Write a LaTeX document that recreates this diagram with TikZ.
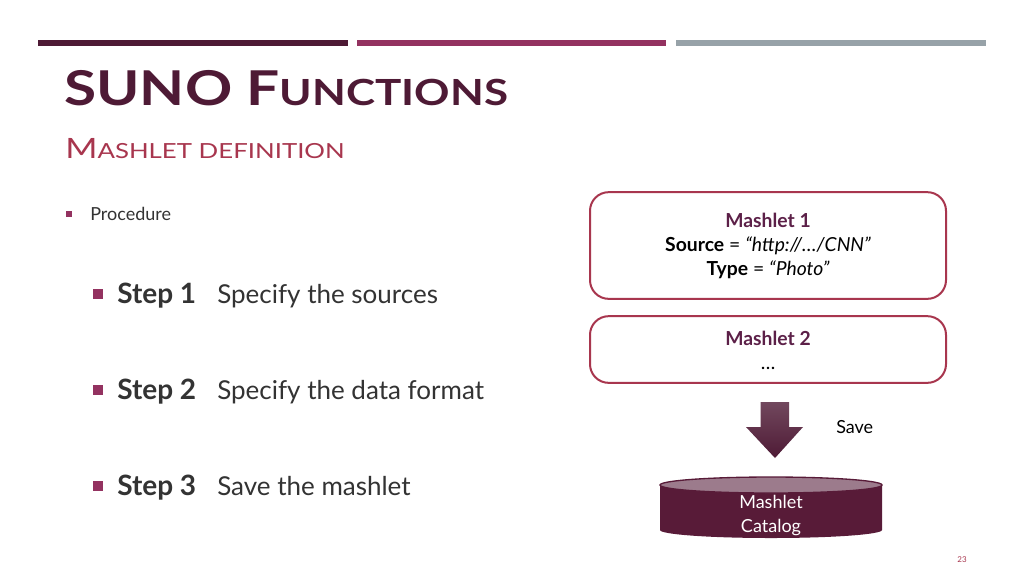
\documentclass[tikz,border=0pt]{standalone}
\usepackage{fontspec}
\setmainfont{Lato}
\usetikzlibrary{shapes.geometric}
\definecolor{plumdark}{HTML}{4E1A35}
\definecolor{plummid}{HTML}{933260}
\definecolor{bargray}{HTML}{97A2A8}
\definecolor{crimson}{HTML}{A8364E}
\definecolor{boxtitle}{HTML}{5C2048}
\definecolor{textgray}{HTML}{333333}
\definecolor{cylbody}{HTML}{581B38}
\definecolor{cyltop}{HTML}{9C7B8C}
\tikzset{
  bar/.style={fill=#1, draw=none},
  stepbullet/.style={fill=plummid, draw=none, minimum size=7pt, inner sep=0pt},
  smallbullet/.style={fill=plummid, draw=none, minimum size=5pt, inner sep=0pt},
  steptext/.style={anchor=base west, inner sep=0pt, text=textgray, font=\fontsize{19.5}{24}\selectfont},
  mashbox/.style={draw=crimson, line width=1.5pt, rounded corners=14pt, minimum width=267pt, fill=white},
  boxtext/.style={inner sep=0pt, align=center, font=\fontsize{14.5}{18}\selectfont},
}
\newcommand{\steplabel}[1]{\makebox[75pt][l]{\fontsize{21}{24}\selectfont\textbf{#1}}}
\begin{document}
\begin{tikzpicture}[x=0.75pt,y=-0.75pt]
\fill[white] (0,0) rectangle (1024,576);
\useasboundingbox (0,0) rectangle (1024,576);
% bars
\fill[bar=plumdark] (38,39.5) rectangle (348,46);
\fill[bar=plummid] (357,39.5) rectangle (666,46);
\fill[bar=bargray] (676,39.5) rectangle (986,46);
% title
\node[anchor=base west, inner sep=0pt, text=plumdark, font=\bfseries, xscale=1.22, transform shape] (title) at (64,105)
 {\fontsize{36}{40}\selectfont SUNO F\fontsize{27}{30}\selectfont UNCTIONS};
\node[anchor=base west, inner sep=0pt, text=crimson, xscale=1.24, transform shape] (subtitle) at (65,158)
 {\fontsize{21}{24}\selectfont M\fontsize{15.6}{18}\selectfont ASHLET DEFINITION};
% procedure
\node[smallbullet] (b0) at (69,214) {};
\node[anchor=base west, inner sep=0pt, text=textgray, font=\fontsize{13.5}{16}\selectfont] (proc) at (90,220.5) {Procedure};
% steps
\node[stepbullet] (b1) at (98,294) {};
\node[steptext] (s1) at (117,303) {\steplabel{Step 1}Specify the sources};
\node[stepbullet] (b2) at (98,390) {};
\node[steptext] (s2) at (117,399) {\steplabel{Step 2}Specify the data format};
\node[stepbullet] (b3) at (98,486) {};
\node[steptext] (s3) at (117,495) {\steplabel{Step 3}Save the mashlet};
% boxes
\node[mashbox, minimum height=80pt] (m1) at (768,245.5) {};
\node[boxtext] (m1t) at (768,246) {\textcolor{boxtitle}{\textbf{Mashlet 1}}\\
 \textbf{Source} = \textit{“http://…/CNN”}\\
 \textbf{Type} = \textit{“Photo”}};
\node[mashbox, minimum height=50pt] (m2) at (768,349.5) {};
\node[boxtext] (m2t) at (768,350) {\textcolor{boxtitle}{\textbf{Mashlet 2}}\\ …};
% arrow
\shade[top color=plumdark!80, bottom color=plumdark, draw=none]
  (760.5,402) -- (789,402) -- (789,427) -- (803,427) -- (775,458) -- (746,427) -- (760.5,427) -- cycle;
\node[anchor=base west, inner sep=0pt, font=\fontsize{13.5}{16}\selectfont] (save) at (836,433) {Save};
% cylinder
\fill[cylbody] (660,485) -- (660,530) arc[start angle=180, end angle=360, x radius=83.25pt, y radius=6pt] -- (882,485) -- cycle;
\filldraw[fill=cyltop, draw=cylbody, line width=1pt] (771,485) ellipse[x radius=83.25pt, y radius=6pt];
\node[boxtext, text=white, font=\fontsize{13.5}{18}\selectfont] (cat) at (771,516) {Mashlet\\Catalog};
% page number
\node[inner sep=0pt, text=crimson, font=\fontsize{6}{7}\selectfont] (pg) at (962,560) {23};
\end{tikzpicture}
\end{document}
